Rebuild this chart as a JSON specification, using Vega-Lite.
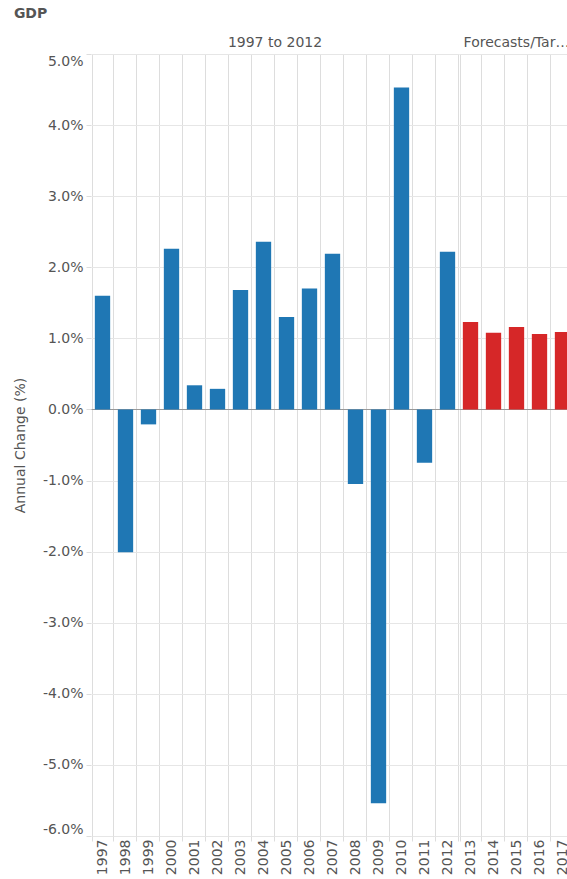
{
  "$schema": "https://vega.github.io/schema/vega-lite/v6.json",
  "padding": {"left": 13, "top": 7, "right": 0, "bottom": 0},
  "bounds": "flush",
  "title": {"text": "GDP", "anchor": "start", "frame": "bounds", "font": "DejaVu Sans", "fontSize": 14, "fontWeight": "bold", "color": "#555555", "offset": 15},
  "data": {"values": [
    {"year": "1997", "period": "1997 to 2012", "change": 1.60},
    {"year": "1998", "period": "1997 to 2012", "change": -2.01},
    {"year": "1999", "period": "1997 to 2012", "change": -0.21},
    {"year": "2000", "period": "1997 to 2012", "change": 2.26},
    {"year": "2001", "period": "1997 to 2012", "change": 0.34},
    {"year": "2002", "period": "1997 to 2012", "change": 0.29},
    {"year": "2003", "period": "1997 to 2012", "change": 1.68},
    {"year": "2004", "period": "1997 to 2012", "change": 2.36},
    {"year": "2005", "period": "1997 to 2012", "change": 1.30},
    {"year": "2006", "period": "1997 to 2012", "change": 1.70},
    {"year": "2007", "period": "1997 to 2012", "change": 2.19},
    {"year": "2008", "period": "1997 to 2012", "change": -1.05},
    {"year": "2009", "period": "1997 to 2012", "change": -5.54},
    {"year": "2010", "period": "1997 to 2012", "change": 4.53},
    {"year": "2011", "period": "1997 to 2012", "change": -0.75},
    {"year": "2012", "period": "1997 to 2012", "change": 2.22},
    {"year": "2013", "period": "Forecasts/Targets", "change": 1.23},
    {"year": "2014", "period": "Forecasts/Targets", "change": 1.08},
    {"year": "2015", "period": "Forecasts/Targets", "change": 1.16},
    {"year": "2016", "period": "Forecasts/Targets", "change": 1.06},
    {"year": "2017", "period": "Forecasts/Targets", "change": 1.09}
  ]},
  "facet": {
    "column": {
      "field": "period", "type": "nominal", "sort": ["1997 to 2012", "Forecasts/Targets"], "title": null,
      "header": {"labelOrient": "top", "labelFont": "DejaVu Sans", "labelFontSize": 14, "labelColor": "#555555", "labelLimit": 108, "labelPadding": 4}
    }
  },
  "spacing": 0,
  "resolve": {"scale": {"x": "independent"}},
  "spec": {
    "width": {"step": 23},
    "height": 782,
    "mark": {"type": "bar", "width": {"band": 0.74}},
    "encoding": {
      "x": {"field": "year", "type": "ordinal", "title": null,
        "axis": {"labelAngle": 270, "labelFont": "DejaVu Sans", "labelFontSize": 14, "labelColor": "#555555", "labelPadding": -2,
          "domain": false, "ticks": true, "tickSize": 5, "tickColor": "#dddddd", "tickBand": "extent",
          "grid": true, "gridColor": "#dddddd", "bandPosition": 0}},
      "y": {"field": "change", "type": "quantitative", "title": "Annual Change (%)",
        "scale": {"domain": [-6, 5], "nice": false, "zero": false},
        "axis": {"values": [-6, -5, -4, -3, -2, -1, 0, 1, 2, 3, 4, 5], "labelExpr": "(datum.value < 0 ? '-' : '') + format(abs(datum.value), '.1f') + '%'",
          "labelFont": "DejaVu Sans", "labelFontSize": 14, "labelColor": "#555555", "labelFlush": true, "labelFlushOffset": 0, "labelPadding": 3,
          "titleFont": "DejaVu Sans", "titleFontSize": 14, "titleFontWeight": "normal", "titleColor": "#555555", "titlePadding": 14.5,
          "domain": false, "tickSize": 5, "tickColor": "#dddddd",
          "grid": true, "gridColor": {"condition": {"test": "datum.value === 0", "value": "#999999"}, "value": "#e6e6e6"}}},
      "color": {"field": "period", "type": "nominal", "legend": null,
        "scale": {"domain": ["1997 to 2012", "Forecasts/Targets"], "range": ["#1f77b4", "#d62728"]}}
    }
  },
  "config": {"view": {"stroke": null}, "font": "DejaVu Sans"}
}
